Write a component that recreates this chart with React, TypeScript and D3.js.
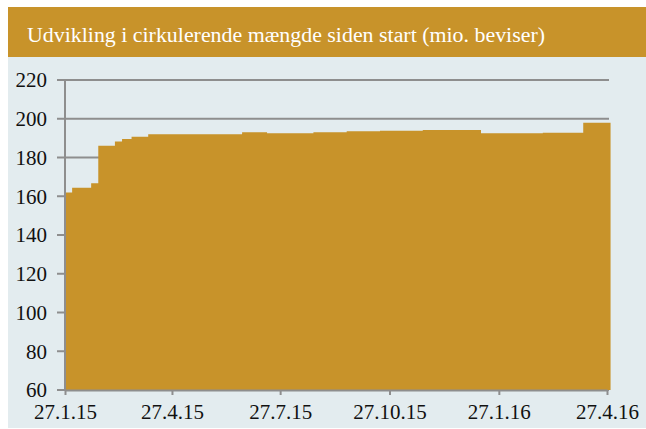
import React, { useEffect, useRef } from "react";
import * as d3 from "d3";

// step dates (d.m.yyyy) and circulating amount (mio. beviser)
const dates = [
  "27.1.2015", "2.2.2015", "18.2.2015", "24.2.2015", "10.3.2015", "16.3.2015",
  "24.3.2015", "7.4.2015", "25.6.2015", "16.7.2015", "24.8.2015", "21.9.2015",
  "19.10.2015", "24.11.2015", "12.1.2016", "4.3.2016", "7.4.2016", "30.4.2016",
];
const values = [
  162, 164.4, 166.7, 186.1, 188.2, 189.5,
  190.7, 192, 193, 192.5, 193, 193.5,
  193.8, 194.2, 192.5, 192.8, 198, 198,
];
const xTicks = ["27.1.2015", "27.4.2015", "27.7.2015", "27.10.2015", "27.1.2016", "27.4.2016"];
const yTicks = [60, 80, 100, 120, 140, 160, 180, 200, 220];
const title = "Udvikling i cirkulerende mængde siden start (mio. beviser)";

const parse = d3.timeParse("%d.%m.%Y");
const fmt = d3.timeFormat("%-d.%-m.%y");

const W = 646;
const H = 429;
const gold = "#c8932a";
const panel = "#e3ecef";
const grid = "#8e8e8e";
const font = "'Liberation Serif', serif";

export default function App() {
  const ref = useRef<SVGSVGElement>(null);

  useEffect(() => {
    const svg = d3.select(ref.current);
    svg.selectAll("*").remove();

    svg.append("rect").attr("width", W).attr("height", H).attr("fill", "#fff");
    svg.append("rect").attr("x", 8).attr("y", 7).attr("width", W - 8).attr("height", 50).attr("fill", gold);
    svg.append("rect").attr("x", 8).attr("y", 57).attr("width", W - 8).attr("height", 371).attr("fill", panel);

    svg.append("text")
      .attr("x", 27)
      .attr("y", 42)
      .attr("fill", "#fff")
      .attr("font-family", font)
      .attr("font-size", 20)
      .attr("textLength", 518)
      .attr("lengthAdjust", "spacingAndGlyphs")
      .text(title);

    const data = dates.map((d, i) => ({ date: parse(d) as Date, value: values[i] }));
    const tickDates = xTicks.map((d) => parse(d) as Date);

    const x = d3.scaleTime().domain([tickDates[0], tickDates[tickDates.length - 1]]).range([65, 607]);
    const y = d3.scaleLinear().domain([60, 220]).range([390, 80]);

    // gridlines
    svg.append("g")
      .selectAll("line")
      .data(yTicks)
      .join("line")
      .attr("x1", 57)
      .attr("x2", 609)
      .attr("y1", (d) => y(d))
      .attr("y2", (d) => y(d))
      .attr("stroke", grid)
      .attr("stroke-width", 2);

    const area = d3.area<{ date: Date; value: number }>()
      .x((d) => x(d.date))
      .y0(y(60))
      .y1((d) => y(d.value))
      .curve(d3.curveStepAfter);

    svg.append("path").datum(data).attr("d", area).attr("fill", gold);

    // y axis line
    svg.append("line")
      .attr("x1", 65).attr("x2", 65)
      .attr("y1", y(220)).attr("y2", y(60) + 1)
      .attr("stroke", grid).attr("stroke-width", 2);

    // x axis
    const xAxis = svg.append("g")
      .attr("transform", `translate(0,${y(60)})`)
      .call(d3.axisBottom(x).tickValues(tickDates).tickFormat((d) => fmt(d as Date)).tickSize(5).tickSizeOuter(0));
    xAxis.select(".domain").attr("stroke", grid).attr("stroke-width", 2);
    xAxis.selectAll(".tick line").attr("stroke", grid).attr("stroke-width", 2);
    xAxis.selectAll("text")
      .attr("fill", "#111")
      .attr("font-family", font)
      .attr("font-size", 21)
      .attr("dy", "0.95em")
      .attr("y", 9);

    // y labels
    svg.append("g")
      .selectAll("text")
      .data(yTicks)
      .join("text")
      .attr("x", 47)
      .attr("y", (d) => y(d))
      .attr("dy", "0.35em")
      .attr("text-anchor", "end")
      .attr("fill", "#111")
      .attr("font-family", font)
      .attr("font-size", 21)
      .text((d) => d);
  }, []);

  return (
    <svg
      ref={ref}
      width={W}
      height={H}
      style={{ position: "absolute", left: 0, top: 0 }}
    />
  );
}
